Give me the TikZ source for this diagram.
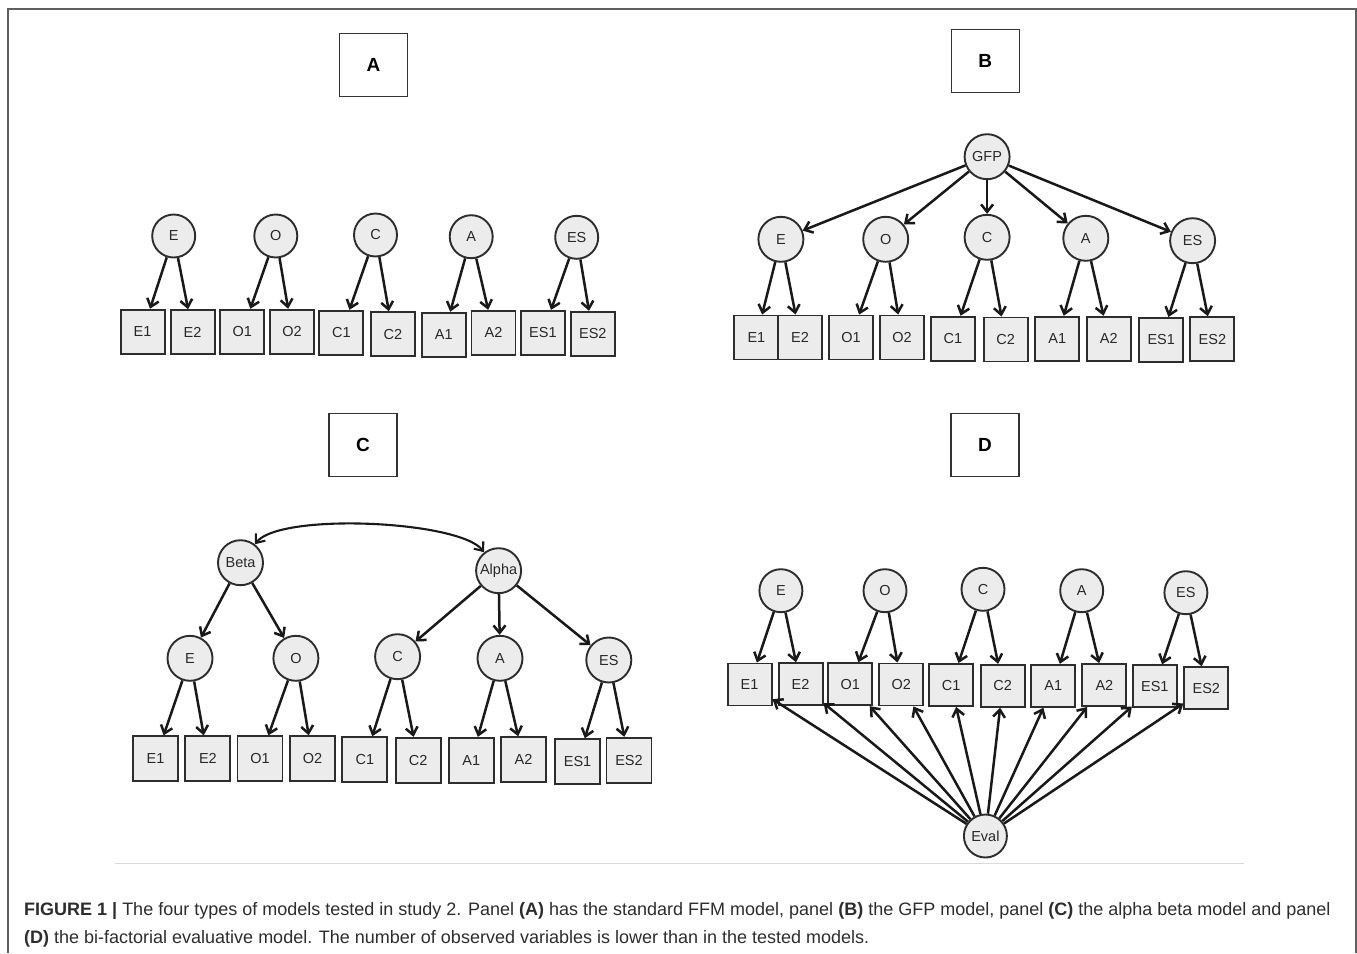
\documentclass[tikz,border=0pt]{standalone}
\usepackage{fontspec}
\setmainfont{Liberation Sans}
\usetikzlibrary{arrows.meta}
\definecolor{nodefill}{RGB}{236,236,236}
\definecolor{edgec}{RGB}{45,45,45}
\definecolor{framec}{RGB}{95,95,95}
\definecolor{captxt}{RGB}{45,45,45}
\definecolor{txtc}{RGB}{40,40,40}
\begin{document}
\begin{tikzpicture}[x=1pt,y=-1pt,
  latent/.style={circle, draw=edgec, line width=1.9pt, fill=nodefill, minimum size=43pt, inner sep=0pt, text=txtc, font=\fontsize{14.5}{16}\selectfont},
  obs/.style={rectangle, draw=edgec, line width=1.9pt, fill=nodefill, minimum width=44pt, minimum height=44pt, inner sep=0pt, text=txtc, font=\fontsize{14.5}{16}\selectfont},
  arr/.style={-{Straight Barb[length=7.5pt,width=12pt]}, line width=2.5pt, draw=black!90},
  dbl/.style={{Straight Barb[length=7.5pt,width=12pt]}-{Straight Barb[length=7.5pt,width=12pt]}, line width=2.1pt, draw=black!90},
  lbl/.style={rectangle, draw=black!80, line width=1.3pt, fill=white, minimum width=68pt, minimum height=63pt, inner sep=0pt, font=\bfseries\fontsize{19}{22}\selectfont},
  captext/.style={anchor=base west, inner sep=0pt, text=captxt, font=\fontsize{18}{22}\selectfont}]
\useasboundingbox[fill=white] (0,0) rectangle (1357,953);
% frame
\draw[framec, line width=1.5pt] (8,953) -- (8,9) -- (1356,9) -- (1356,953);
% panel labels
\node[lbl] (labA) at (373.5,65) {A};
\node[lbl] (labB) at (985.3,61) {B};
\node[lbl] (labC) at (363,445) {C};
\node[lbl] (labD) at (985,445) {D};
% ---------- Panel A ----------
\foreach \n/\x/\y in {E/173.7/236,O/275.8/236,C/375.5/235,A/471.2/236.7,ES/576.7/237.3}
  \node[latent] (a\n) at (\x,\y) {\n};
\foreach \n/\x/\y in {E1/142.6/331.7,E2/192.6/332.2,O1/242.3/331.7,O2/292/331.7,C1/341.4/332.8,C2/392.8/334.2,A1/443.8/334.7,A2/493.5/332.8,ES1/542.9/332.8,ES2/592.8/333.8}
  \node[obs] (a\n) at (\x,\y) {\n};
\foreach \p in {E,O,C,A,ES}{
  \draw[arr] (a\p) -- (a\p1);
  \draw[arr] (a\p) -- (a\p2);}
% ---------- Panel B ----------
\node[latent, minimum size=45pt] (bGFP) at (987.1,156.7) {GFP};
\foreach \n/\x/\y in {E/780.9/239.3,O/885.7/239.3,C/987.1/237.3,A/1085.8/238.3,ES/1192.6/240.7}
  \node[latent, minimum size=45pt] (b\n) at (\x,\y) {\n};
\foreach \n/\x/\y in {E1/756.4/337.5,E2/800/337.5,O1/851/337.5,O2/902/337.5,C1/952.8/338.7,C2/1005.7/339.5,A1/1057.2/338.7,A2/1108.8/338.7,ES1/1161.2/340,ES2/1212.4/339.2}
  \node[obs] (b\n) at (\x,\y) {\n};
\foreach \p in {E,O,C,A,ES}{
  \draw[arr] (bGFP) -- (b\p);
  \draw[arr] (b\p) -- (b\p1);
  \draw[arr] (b\p) -- (b\p2);}
% ---------- Panel C ----------
\node[latent, minimum size=45pt] (cBeta) at (240.5,562.7) {Beta};
\node[latent, minimum size=45pt] (cAlpha) at (498.6,570.7) {Alpha};
\foreach \n/\x/\y in {E/190/658.3,O/295.9/658.3,C/397.6/656.7,A/500/658.3,ES/608.8/660}
  \node[latent, minimum size=45pt] (c\n) at (\x,\y) {\n};
\foreach \n/\x/\y in {E1/155.6/758.8,E2/207.9/758.8,O1/260/758.8,O2/312.6/758.8,C1/364.8/759.7,C2/418.2/760.3,A1/471.3/760.3,A2/523.6/759.7,ES1/577.6/761.7,ES2/629/760.3}
  \node[obs, minimum width=45pt, minimum height=45pt] (c\n) at (\x,\y) {\n};
\draw[dbl] (cBeta) to[out=52, in=128, looseness=0.45] (cAlpha);
\foreach \p in {E,O}{\draw[arr] (cBeta) -- (c\p);}
\foreach \p in {C,A,ES}{\draw[arr] (cAlpha) -- (c\p);}
\foreach \p in {E,O,C,A,ES}{
  \draw[arr] (c\p) -- (c\p1);
  \draw[arr] (c\p) -- (c\p2);}
% ---------- Panel D ----------
\foreach \n/\x/\y in {E/780.9/590.7,O/885/590.7,C/983/589.3,A/1081.7/590.7,ES/1185.9/592.7}
  \node[latent] (d\n) at (\x,\y) {\n};
\node[latent] (dEval) at (985.4,836) {Eval};
\foreach \n/\x/\y in {E1/749.6/684.5,E2/800.6/684.2,O1/850.2/684.2,O2/901.2/684.5,C1/951.2/685,C2/1002.6/685.8,A1/1053.3/685.8,A2/1104.4/685,ES1/1154.8/686.3,ES2/1206.3/688.2}
  \node[obs, minimum height=42pt] (d\n) at (\x,\y) {\n};
\foreach \p in {E,O,C,A,ES}{
  \draw[arr] (d\p) -- (d\p1);
  \draw[arr] (d\p) -- (d\p2);
  \draw[arr] (dEval) -- (d\p1);
  \draw[arr] (dEval) -- (d\p2);}
% separator
\coordinate (sepL) at (115,863);
\coordinate (sepR) at (1244,863);
\draw[black!15, line width=1pt] (sepL) -- (sepR);
% caption
\node[captext] (cap1) at (24,915.5) {\textbf{FIGURE 1 |} The four types of models tested in study 2. Panel \textbf{(A)} has the standard FFM model, panel \textbf{(B)} the GFP model, panel \textbf{(C)} the alpha beta model and panel};
\node[captext] (cap2) at (24,943.5) {\textbf{(D)} the bi-factorial evaluative model. The number of observed variables is lower than in the tested models.};
\end{tikzpicture}
\end{document}
